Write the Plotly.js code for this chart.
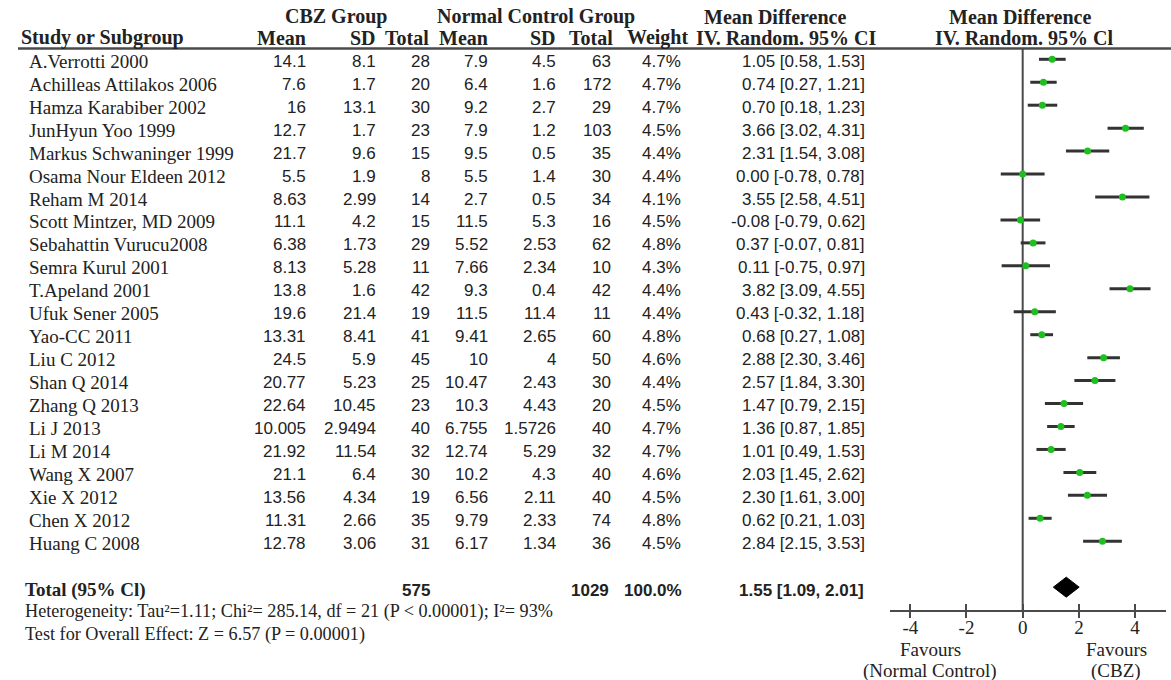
<!DOCTYPE html>
<html>
<head>
<meta charset="utf-8">
<script src="https://cdn.plot.ly/plotly-3.0.1.min.js"></script>
<style>
  html, body { margin: 0; padding: 0; background: #ffffff; }
  #forest { width: 1171px; height: 680px; }
</style>
</head>
<body>
<div id="forest"></div>
<script>
// Carbamazepine (CBZ) vs normal controls: study-level data
const studies = [
  "A.Verrotti 2000", "Achilleas Attilakos 2006", "Hamza Karabiber 2002", "JunHyun Yoo 1999",
  "Markus Schwaninger 1999", "Osama Nour Eldeen 2012", "Reham M 2014", "Scott Mintzer, MD 2009",
  "Sebahattin Vurucu2008", "Semra Kurul 2001", "T.Apeland 2001", "Ufuk Sener 2005",
  "Yao-CC 2011", "Liu C 2012", "Shan Q 2014", "Zhang Q 2013", "Li J 2013", "Li M 2014",
  "Wang X 2007", "Xie X 2012", "Chen X 2012", "Huang C 2008"
];
const cbzMean = [14.1, 7.6, 16, 12.7, 21.7, 5.5, 8.63, 11.1, 6.38, 8.13, 13.8, 19.6, 13.31, 24.5, 20.77, 22.64, 10.005, 21.92, 21.1, 13.56, 11.31, 12.78];
const cbzSD   = [8.1, 1.7, 13.1, 1.7, 9.6, 1.9, 2.99, 4.2, 1.73, 5.28, 1.6, 21.4, 8.41, 5.9, 5.23, 10.45, 2.9494, 11.54, 6.4, 4.34, 2.66, 3.06];
const cbzN    = [28, 20, 30, 23, 15, 8, 14, 15, 29, 11, 42, 19, 41, 45, 25, 23, 40, 32, 30, 19, 35, 31];
const ctlMean = [7.9, 6.4, 9.2, 7.9, 9.5, 5.5, 2.7, 11.5, 5.52, 7.66, 9.3, 11.5, 9.41, 10, 10.47, 10.3, 6.755, 12.74, 10.2, 6.56, 9.79, 6.17];
const ctlSD   = [4.5, 1.6, 2.7, 1.2, 0.5, 1.4, 0.5, 5.3, 2.53, 2.34, 0.4, 11.4, 2.65, 4, 2.43, 4.43, 1.5726, 5.29, 4.3, 2.11, 2.33, 1.34];
const ctlN    = [63, 172, 29, 103, 35, 30, 34, 16, 62, 10, 42, 11, 60, 50, 30, 20, 40, 32, 40, 40, 74, 36];
const weights = [4.7, 4.7, 4.7, 4.5, 4.4, 4.4, 4.1, 4.5, 4.8, 4.3, 4.4, 4.4, 4.8, 4.6, 4.4, 4.5, 4.7, 4.7, 4.6, 4.5, 4.8, 4.5];
const mdValue = [1.05, 0.74, 0.70, 3.66, 2.31, 0.00, 3.55, -0.08, 0.37, 0.11, 3.82, 0.43, 0.68, 2.88, 2.57, 1.47, 1.36, 1.01, 2.03, 2.30, 0.62, 2.84];
const mdLower = [0.58, 0.27, 0.18, 3.02, 1.54, -0.78, 2.58, -0.79, -0.07, -0.75, 3.09, -0.32, 0.27, 2.30, 1.84, 0.79, 0.87, 0.49, 1.45, 1.61, 0.21, 2.15];
const mdUpper = [1.53, 1.21, 1.23, 4.31, 3.08, 0.78, 4.51, 0.62, 0.81, 0.97, 4.55, 1.18, 1.08, 3.46, 3.30, 2.15, 1.85, 1.53, 2.62, 3.00, 1.03, 3.53];

// Pooled (random effects) result
const totalCbzN = 575;
const totalCtlN = 1029;
const totalWeight = 100.0;
const pooledMD = [1.55, 1.09, 2.01];   // estimate, lower, upper

// Axis ticks of the forest panel
const tickValues = [-4, -2, 0, 2, 4];
const tickLabels = ["-4", "-2", "0", "2", "4"];

// ---------------------------------------------------------------
const W = 1171, H = 680;
const px = v => v / W;          // pixel column -> paper x
const py = v => 1 - v / H;      // pixel row -> paper y

const SERIF = "Liberation Serif, Times New Roman, serif";
const SANS = "Liberation Sans, Arial, sans-serif";
const INK = "#222222";
const LINE = "#4a4a4a";

const rows = studies.map((_, i) => i);
const totalRow = studies.length + 1;

const fmt2 = v => v.toFixed(2);
const ciText = (m, l, u) => `${fmt2(m)} [${fmt2(l)}, ${fmt2(u)}]`;

const annotations = [];
function txt(text, x, y, opts) {
  opts = opts || {};
  annotations.push({
    text: text,
    x: x, xref: "paper",
    y: y, yref: opts.yref || "paper",
    xanchor: opts.xanchor || "left",
    yanchor: "middle",
    yshift: opts.yshift || 0,
    showarrow: false,
    font: { family: opts.family || SERIF, size: opts.size || 19, color: INK },
  });
}

// Column headers
const hBold = t => "<b>" + t + "</b>";
const HS = 20;
const H1 = 16.5, H2 = 37.5;
txt(hBold("CBZ Group"), px(336), py(H1), { xanchor: "center", size: HS });
txt(hBold("Normal Control Group"), px(536), py(H1), { xanchor: "center", size: HS });
txt(hBold("Mean Difference"), px(775), py(H1), { xanchor: "center", size: HS });
txt(hBold("Mean Difference"), px(1020), py(H1), { xanchor: "center", size: HS });

txt(hBold("Study or Subgroup"), px(19), py(H2), { size: HS });
txt(hBold("Mean"), px(308), py(H2), { xanchor: "right", size: HS });
txt(hBold("SD"), px(378), py(H2), { xanchor: "right", size: HS });
txt(hBold("Total"), px(431), py(H2), { xanchor: "right", size: HS });
txt(hBold("Mean"), px(490), py(H2), { xanchor: "right", size: HS });
txt(hBold("SD"), px(558), py(H2), { xanchor: "right", size: HS });
txt(hBold("Total"), px(615), py(H2), { xanchor: "right", size: HS });
txt(hBold("Weight"), px(690), py(H2), { xanchor: "right", size: HS });
txt(hBold("IV. Random. 95% CI"), px(786), py(H2), { xanchor: "center", size: HS });
txt(hBold("IV. Random. 95% Cl"), px(1024), py(H2), { xanchor: "center", size: HS });

// Study rows
const numCols = [
  [cbzMean, 308], [cbzSD, 378], [cbzN, 432],
  [ctlMean, 490], [ctlSD, 558], [ctlN, 613],
];
rows.forEach(i => {
  txt(studies[i], px(27), i, { yref: "y", yshift: -2, size: 19 });
  numCols.forEach(([arr, right]) => {
    txt(String(arr[i]), px(right), i, { yref: "y", yshift: -2, xanchor: "right", family: SANS, size: 17 });
  });
  txt(weights[i].toFixed(1) + "%", px(683), i, { yref: "y", yshift: -2, xanchor: "right", family: SANS, size: 17 });
  txt(ciText(mdValue[i], mdLower[i], mdUpper[i]), px(867), i, { yref: "y", yshift: -2, xanchor: "right", family: SANS, size: 17 });
});

// Pooled row
txt(hBold("Total (95% Cl)"), px(23), totalRow, { yref: "y", yshift: -3, size: 19 });
txt(hBold(String(totalCbzN)), px(432), totalRow, { yref: "y", yshift: -3, xanchor: "right", family: SANS, size: 17 });
txt(hBold(String(totalCtlN)), px(611), totalRow, { yref: "y", yshift: -3, xanchor: "right", family: SANS, size: 17 });
txt(hBold(totalWeight.toFixed(1) + "%"), px(684), totalRow, { yref: "y", yshift: -3, xanchor: "right", family: SANS, size: 17 });
txt(hBold(ciText(pooledMD[0], pooledMD[1], pooledMD[2])), px(866), totalRow, { yref: "y", yshift: -3, xanchor: "right", family: SANS, size: 17 });

// Footnotes
txt("Heterogeneity: Tau²=1.11; Chi²= 285.14, df = 21 (P &lt; 0.00001); I²= 93%", px(23), py(611), { size: 18.2 });
txt("Test for Overall Effect: Z = 6.57 (P = 0.00001)", px(23), py(634), { size: 18.2 });

// Direction labels under the forest axis
txt("Favours", px(930), py(649), { xanchor: "center", size: 19 });
txt("(Normal Control)", px(930), py(671), { xanchor: "center", size: 19 });
txt("Favours", px(1116), py(649), { xanchor: "center", size: 19 });
txt("(CBZ)", px(1116), py(671), { xanchor: "center", size: 19 });

// ---------------------------------------------------------------
const axisBottomPx = 610;
const rowTopPx = 59.3, rowStepPx = 22.95;
const yBottom = (axisBottomPx - rowTopPx) / rowStepPx;
const yTop = -rowTopPx / rowStepPx;
const xLeft = -4.722, xRight = 5.1;
const diamondHalf = 10 / rowStepPx;

const studyTrace = {
  type: "scatter", mode: "markers",
  x: mdValue, y: rows,
  xaxis: "x", yaxis: "y",
  marker: { symbol: "circle", size: 7, color: "#1fbf1f", line: { width: 0 } },
  error_x: {
    type: "data", symmetric: false,
    array: mdUpper.map((u, i) => u - mdValue[i]),
    arrayminus: mdLower.map((l, i) => mdValue[i] - l),
    color: "#333333", thickness: 3, width: 0,
  },
  hoverinfo: "skip", showlegend: false,
};

const diamondTrace = {
  type: "scatter", mode: "lines",
  x: [pooledMD[1], pooledMD[0], pooledMD[2], pooledMD[0], pooledMD[1]],
  y: [totalRow, totalRow - diamondHalf, totalRow, totalRow + diamondHalf, totalRow],
  xaxis: "x", yaxis: "y",
  fill: "toself", fillcolor: "#000000",
  line: { color: "#000000", width: 1 },
  hoverinfo: "skip", showlegend: false,
};

// Invisible trace so the overlaid axis (upper tick halves) is drawn
const tickTrace = {
  type: "scatter", mode: "markers", x: [0], y: [yBottom],
  xaxis: "x2", yaxis: "y",
  marker: { opacity: 0 }, hoverinfo: "skip", showlegend: false,
};

const xDomain = [px(890), px(1166)];
const yDomain = [1 - axisBottomPx / H, 1];

const layout = {
  width: W, height: H,
  margin: { l: 0, r: 0, t: 0, b: 0 },
  paper_bgcolor: "#ffffff", plot_bgcolor: "rgba(0,0,0,0)",
  showlegend: false,
  xaxis: {
    domain: xDomain, range: [xLeft, xRight], anchor: "y",
    showgrid: false, zeroline: false,
    showline: true, linecolor: LINE, linewidth: 2,
    ticks: "outside", ticklen: 6, tickwidth: 2, tickcolor: LINE,
    tickvals: tickValues, ticktext: tickLabels,
    tickfont: { family: SERIF, size: 19, color: INK },
    ticklabelstandoff: -7,
    fixedrange: true,
  },
  xaxis2: {
    domain: xDomain, range: [xLeft, xRight], anchor: "y", overlaying: "x",
    showgrid: false, zeroline: false, showline: false,
    ticks: "inside", ticklen: 6, tickwidth: 2, tickcolor: LINE,
    tickvals: tickValues, showticklabels: false,
    fixedrange: true,
  },
  yaxis: {
    domain: yDomain, range: [yBottom, yTop],
    visible: false, showgrid: false, zeroline: false, fixedrange: true,
  },
  shapes: [
    // header rule
    { type: "line", xref: "paper", yref: "paper", x0: px(18), x1: 1, y0: py(48.5), y1: py(48.5),
      line: { color: LINE, width: 2.5 } },
    // line of no effect
    { type: "line", xref: "x", yref: "paper", x0: 0, x1: 0, y0: yDomain[0], y1: py(48.5),
      line: { color: LINE, width: 2 }, layer: "below" },
  ],
  annotations: annotations,
};

Plotly.newPlot("forest", [studyTrace, diamondTrace, tickTrace], layout, { staticPlot: true, displayModeBar: false });
</script>
</body>
</html>
